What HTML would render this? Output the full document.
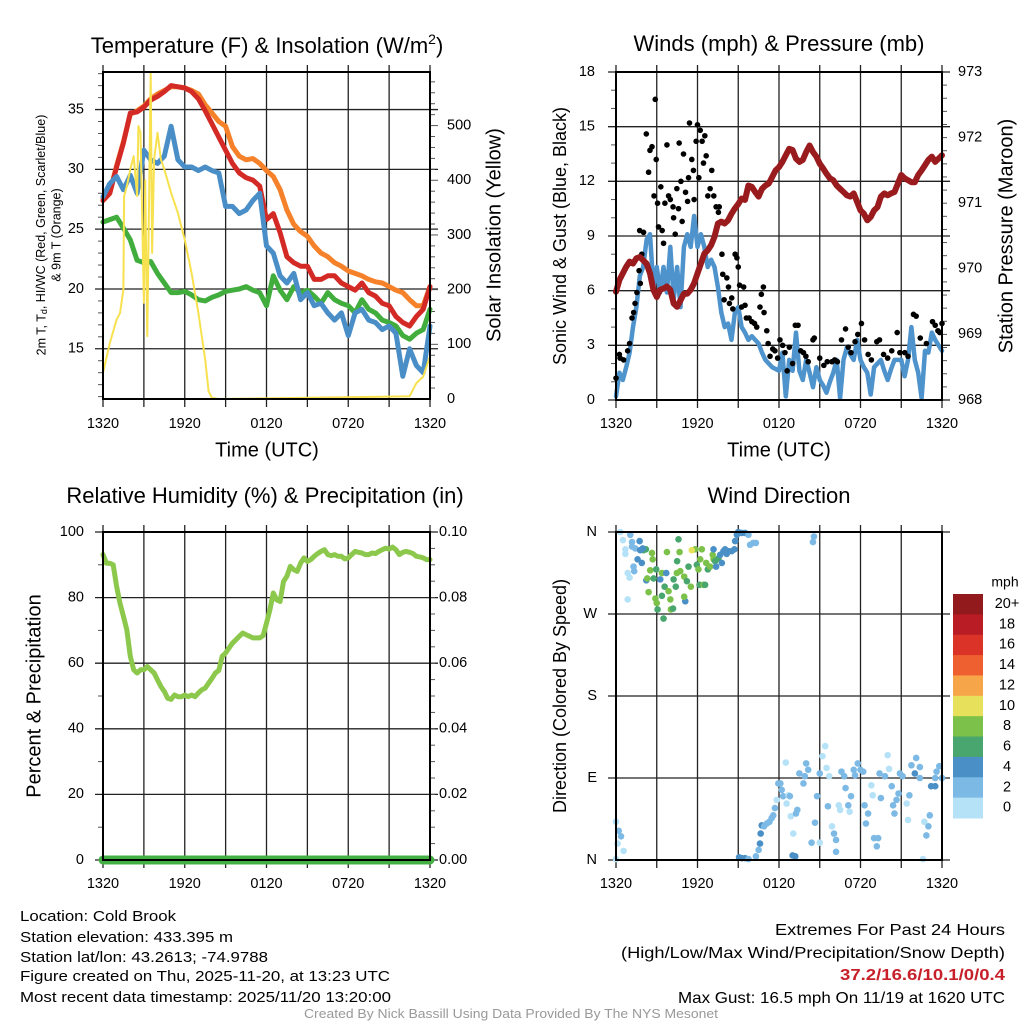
<!DOCTYPE html>
<html><head><meta charset="utf-8"><title>Cold Brook Meteogram</title>
<style>
html,body{margin:0;padding:0;background:#fff;}
svg{display:block;font-family:"Liberation Sans",sans-serif;}
</style></head>
<body>
<svg id="fig" xmlns="http://www.w3.org/2000/svg" width="1024" height="1024" viewBox="0 0 1024 1024">
<rect x="0" y="0" width="1024" height="1024" fill="#fff"/>
<text x="267" y="53" font-size="22" text-anchor="middle">Temperature (F) &amp; Insolation (W/m<tspan font-size="14" dy="-9">2</tspan><tspan dy="9">)</tspan></text>
<text x="779" y="45" font-size="22" text-anchor="middle" dominant-baseline="middle">Winds (mph) &amp; Pressure (mb)</text>
<text x="265" y="497" font-size="22" text-anchor="middle" dominant-baseline="middle">Relative Humidity (%) &amp; Precipitation (in)</text>
<text x="779" y="497" font-size="22" text-anchor="middle" dominant-baseline="middle">Wind Direction</text>

<text transform="translate(42,235) rotate(-90)" font-size="12.5" text-anchor="middle" dominant-baseline="middle">2m T, T<tspan font-size="9" dy="3">d</tspan><tspan dy="-3">, HI/WC (Red, Green, Scarlet/Blue)</tspan></text>
<text transform="translate(57,235) rotate(-90)" font-size="12.5" text-anchor="middle" dominant-baseline="middle">&amp; 9m T (Orange)</text>
<text transform="translate(495,235) rotate(-90)" font-size="20" text-anchor="middle" dominant-baseline="middle">Solar Insolation (Yellow)</text>
<text x="267" y="451" font-size="20" text-anchor="middle" dominant-baseline="middle">Time (UTC)</text>
<text transform="translate(561,236) rotate(-90)" font-size="18" text-anchor="middle" dominant-baseline="middle">Sonic Wind &amp; Gust (Blue, Black)</text>
<text transform="translate(1007,236) rotate(-90)" font-size="20" text-anchor="middle" dominant-baseline="middle">Station Pressure (Maroon)</text>
<text x="779" y="451" font-size="20" text-anchor="middle" dominant-baseline="middle">Time (UTC)</text>
<text transform="translate(35,696) rotate(-90)" font-size="20" text-anchor="middle" dominant-baseline="middle">Percent &amp; Precipitation</text>
<text transform="translate(561,696) rotate(-90)" font-size="18" text-anchor="middle" dominant-baseline="middle">Direction (Colored By Speed)</text>
<text x="1005" y="583" font-size="14" text-anchor="middle" dominant-baseline="middle">mph</text>

<g font-size="15">
<text x="20" y="921" textLength="156" lengthAdjust="spacingAndGlyphs">Location: Cold Brook</text>
<text x="20" y="942" textLength="213" lengthAdjust="spacingAndGlyphs">Station elevation: 433.395 m</text>
<text x="20" y="962" textLength="248" lengthAdjust="spacingAndGlyphs">Station lat/lon: 43.2613; -74.9788</text>
<text x="20" y="981" textLength="370" lengthAdjust="spacingAndGlyphs">Figure created on Thu, 2025-11-20, at 13:23 UTC</text>
<text x="20" y="1002" textLength="371" lengthAdjust="spacingAndGlyphs">Most recent data timestamp: 2025/11/20 13:20:00</text>
</g>
<g font-size="16">
<text x="775" y="935" textLength="230" lengthAdjust="spacingAndGlyphs">Extremes For Past 24 Hours</text>
<text x="621" y="958" textLength="384" lengthAdjust="spacingAndGlyphs">(High/Low/Max Wind/Precipitation/Snow Depth)</text>
<text x="840" y="980" textLength="165" lengthAdjust="spacingAndGlyphs" font-weight="bold" fill="#c8202a">37.2/16.6/10.1/0/0.4</text>
<text x="678" y="1003" textLength="327" lengthAdjust="spacingAndGlyphs">Max Gust: 16.5 mph On 11/19 at 1620 UTC</text>
</g>
<text x="304" y="1018" font-size="12.5" fill="#999" textLength="414" lengthAdjust="spacingAndGlyphs">Created By Nick Bassill Using Data Provided By The NYS Mesonet</text>
<g id="charts"></g>
</svg>
<script>
// ---------- DATA ----------
const xTickLabels = ["1320","1920","0120","0720","1320"];
const tempYTicks = [15,20,25,30,35];
const solarYTicks = [0,100,200,300,400,500];
const windYTicks = [0,3,6,9,12,15,18];
const presYTicks = [968,969,970,971,972,973];
const rhYTicks = [0,20,40,60,80,100];
const precipYTicks = ["0.00","0.02","0.04","0.06","0.08","0.10"];
const dirLabels = ["N","E","S","W","N"];
const dirTicks = [0,90,180,270,360];
const colorbarLabels = ["20+","18","16","14","12","10","8","6","4","2","0"];

const halfHourTimes = [0,0.5,1,1.5,2,2.5,3,3.5,4,4.5,5,5.5,6,6.5,7,7.5,8,8.5,9,9.5,10,10.5,11,11.5,12,12.5,13,13.5,14,14.5,15,15.5,16,16.5,17,17.5,18,18.5,19,19.5,20,20.5,21,21.5,22,22.5,23,23.5,24];
const airTemp = [27.4,28.0,30.2,32.2,34.7,34.8,35.2,35.8,36.1,36.5,37.0,36.9,36.8,36.5,35.9,34.9,33.8,32.7,31.6,30.5,29.7,29.3,29.1,28.6,25.8,26.3,24.7,22.7,22.2,21.9,21.9,20.8,20.8,21.1,21.1,20.5,20.2,19.9,20.5,19.7,19.4,18.8,18.6,17.7,17.2,16.9,17.7,18.3,20.2];
const temp9m = [27.6,28.1,30.3,32.3,34.6,34.9,35.3,35.9,36.3,36.6,36.9,36.9,36.8,36.6,36.3,35.4,34.7,34.0,33.6,31.9,31.1,30.8,30.9,30.5,29.9,29.4,28.3,26.6,25.4,24.8,24.4,23.6,23.0,22.7,22.2,21.9,21.5,21.3,21.1,20.8,20.6,20.5,20.2,19.9,19.7,19.1,18.6,18.6,20.2];
const dewPoint = [25.6,25.8,26.0,25.1,24.1,22.4,22.2,22.3,21.3,20.5,19.7,19.7,19.8,19.5,19.1,19.0,19.3,19.5,19.8,19.9,20.0,20.2,19.9,19.7,18.6,21.1,19.9,19.1,20.2,19.7,19.9,19.4,18.8,19.7,19.1,18.8,18.6,18.0,19.1,18.3,18.0,17.4,17.2,16.9,16.1,15.8,16.3,16.6,18.3];
const windChill = [27.7,28.8,29.4,28.3,29.5,28.0,31.6,30.8,30.5,31.1,33.6,30.8,30.2,30.2,29.9,30.2,29.9,29.7,26.9,26.9,26.3,26.6,27.4,28.0,23.6,23.0,21.1,20.5,21.3,19.1,19.7,18.6,18.8,18.0,17.4,18.0,16.1,18.0,18.3,17.4,17.2,16.6,16.9,16.3,12.7,15.0,13.6,13.0,16.9];

const solarTimes = [0,0.5,1,1.25,1.5,1.55,1.75,2,2.25,2.5,2.6,2.75,3,3.1,3.25,3.5,3.6,3.75,4,4.25,4.5,5,5.5,6,6.5,7,7.5,7.75,8,8.5,22.5,23,23.5,24];
const solarValues = [48,102,145,157,200,371,389,420,444,371,499,487,176,400,115,596,267,438,487,438,420,377,340,291,230,157,72,14,2,0,5,29,41,78];

const quarterTimes = [0,0.25,0.5,0.75,1,1.25,1.5,1.75,2,2.25,2.5,2.75,3,3.25,3.5,3.75,4,4.25,4.5,4.75,5,5.25,5.5,5.75,6,6.25,6.5,6.75,7,7.25,7.5,7.75,8,8.25,8.5,8.75,9,9.25,9.5,9.75,10,10.25,10.5,10.75,11,11.25,11.5,11.75,12,12.25,12.5,12.75,13,13.25,13.5,13.75,14,14.25,14.5,14.75,15,15.25,15.5,15.75,16,16.25,16.5,16.75,17,17.25,17.5,17.75,18,18.25,18.5,18.75,19,19.25,19.5,19.75,20,20.25,20.5,20.75,21,21.25,21.5,21.75,22,22.25,22.5,22.75,23,23.25,23.5,23.75,24];
const sonicWind = [0.2,1.5,1.1,1.8,2.6,4.0,5.1,6.8,7.3,8.8,9.1,6.2,7.3,5.9,7.3,5.9,8.4,5.5,7.3,5.1,8.4,9.1,8.4,10.1,8.4,9.1,8.4,7.3,7.7,7.3,6.2,4.8,4.0,4.2,3.3,4.8,5.1,4.0,3.7,3.3,3.5,3.3,3.1,2.6,2.2,2.0,1.8,1.7,1.6,2.6,0.2,2.2,1.6,3.7,1.6,1.1,2.2,1.5,0.7,1.8,1.1,0.8,0.4,1.0,1.5,2.2,0.1,2.2,2.9,2.5,2.2,3.3,2.2,1.8,1.5,0.3,1.8,2.0,2.2,1.6,1.1,1.7,2.2,2.2,2.2,1.3,2.2,4.0,2.2,1.5,0.1,2.7,2.6,3.7,3.3,3.0,2.7];
const pressure = [969.65,969.83,969.93,970.03,970.11,970.08,970.16,970.18,970.13,970.08,969.93,969.68,969.57,969.68,969.70,969.73,969.68,969.47,969.42,969.52,969.62,969.62,969.68,969.78,969.93,970.08,970.23,970.28,970.36,970.49,970.69,970.72,970.69,970.74,970.84,970.92,970.99,971.07,971.05,971.27,971.25,971.17,971.10,971.22,971.27,971.30,971.40,971.50,971.55,971.63,971.73,971.83,971.81,971.68,971.63,971.66,971.78,971.88,971.78,971.71,971.60,971.53,971.45,971.38,971.35,971.27,971.22,971.17,971.12,971.10,971.15,971.02,970.89,970.84,970.74,970.79,970.89,970.94,971.10,971.15,971.12,971.15,971.17,971.30,971.43,971.38,971.35,971.32,971.32,971.43,971.50,971.58,971.66,971.71,971.63,971.68,971.73];
const relHumidity = [93.1,90.5,90.5,90.0,83.4,78.3,74.3,70.2,62.1,58.0,57.0,58.0,58.0,59.0,58.0,57.0,54.9,52.9,51.4,49.3,49.0,50.3,49.8,49.8,50.3,49.8,50.3,49.8,50.9,51.9,52.4,53.9,55.4,57.0,57.8,62.1,63.1,64.6,66.1,67.1,68.2,69.2,68.7,68.2,67.7,67.7,67.7,68.4,72.2,76.3,81.4,79.3,78.8,84.9,86.5,89.5,88.5,88.0,90.5,92.1,91.0,91.6,92.6,93.4,94.1,94.6,93.1,92.8,93.1,92.6,92.6,91.8,92.1,93.1,94.1,93.8,93.6,93.1,93.1,93.6,93.4,94.1,94.6,95.1,94.8,95.4,94.6,93.1,93.8,94.1,93.8,93.4,92.6,92.4,92.1,91.6,91.6];
const precipTimes = [0,24];
const precipValues = [0,0];

const gustTimes = [0,0.25,0.3,0.56,0.86,1.0,1.18,1.3,1.4,1.54,1.7,1.79,1.9,1.74,2.03,2.23,2.4,2.5,2.65,2.89,2.96,2.8,3.06,3.13,3.3,3.4,3.5,3.6,3.75,3.87,4.0,4.2,4.24,4.36,4.48,4.6,4.65,4.78,4.87,4.97,5.12,5.27,5.34,5.41,5.58,5.7,5.75,5.9,6.0,6.1,6.2,6.34,6.44,6.54,6.64,6.76,6.93,7.05,7.2,7.37,7.54,7.6,7.8,7.86,7.96,8.16,8.28,8.35,8.52,8.6,8.77,8.9,9.0,9.1,9.25,9.4,9.5,9.6,9.8,10.0,10.2,10.36,10.6,10.7,10.85,10.9,11.1,11.2,11.34,11.54,11.7,11.9,12.07,12.27,12.44,12.6,12.76,13.0,13.2,13.4,13.6,13.8,13.98,14.15,14.5,14.6,15.0,15.3,15.55,15.9,16.1,16.3,16.6,16.9,17.1,17.3,17.6,17.8,18.07,18.3,18.56,18.8,19.2,19.4,19.7,20.0,20.3,20.7,20.9,21.26,21.5,21.9,22.1,22.4,22.85,23.3,23.5,23.7,23.83,24.0];
const gustValues = [1.2,2.5,2.3,2.2,2.7,3.1,4.5,4.8,5.3,5.9,7.1,6.4,8.0,9.3,9.2,14.6,12.5,13.7,13.9,16.5,13.2,11.2,10.8,9.5,11.7,9.3,8.6,10.8,14.0,11.2,11.0,10.6,10.0,9.1,11.6,10.5,14.1,12.0,9.8,13.5,11.4,10.9,12.2,15.2,13.2,12.6,11.0,14.2,15.1,12.2,14.8,14.2,13.0,14.5,13.4,11.2,11.6,12.6,11.2,10.6,10.3,10.6,8.0,6.9,5.5,6.7,6.2,5.3,5.6,5.0,8.0,7.8,7.3,6.3,5.1,6.2,5.2,4.5,4.5,4.3,4.2,4.0,5.1,5.8,6.2,4.8,3.8,3.1,2.4,2.8,2.7,2.3,3.3,3.0,2.6,1.6,2.9,2.0,4.1,4.1,2.7,2.6,2.4,2.1,3.3,3.4,2.3,1.9,2.1,2.1,2.2,2.1,3.3,3.9,2.9,2.6,3.2,3.6,4.2,3.3,2.5,2.2,3.2,3.3,2.5,2.3,2.7,3.7,2.6,2.6,2.4,4.7,4.6,3.4,3.1,4.3,4.1,3.8,3.7,4.2];

const dirTimes = [0.32,0.51,1.05,1.18,1.74,1.42,0.69,0.69,1.59,1.9,1.29,0.86,1.0,0.86,1.34,2.03,2.2,2.65,2.7,2.52,2.23,2.3,2.77,2.96,3.26,3.38,3.7,3.75,4.6,4.5,4.68,3.58,2.4,2.9,3.0,3.38,3.87,4.0,4.04,4.2,3.06,3.5,4.4,4.24,4.48,4.73,5.02,5.1,5.02,5.22,5.34,5.51,5.83,5.95,6.07,6.2,6.32,6.15,6.44,6.56,6.64,6.76,6.93,7.12,7.18,7.3,7.37,7.54,7.67,7.91,8.03,8.28,8.52,8.72,8.77,8.9,9.0,9.26,9.5,9.75,9.87,10.1,10.3,1.97,1.78,1.18,8.15,7.79,7.18,14.57,14.5,5.58,
0,0.2,0.37,0.12,0.56,0,9.06,9.26,9.5,9.75,
10.3,10.5,10.6,10.65,10.73,10.9,11.1,11.3,11.46,11.58,11.7,11.83,11.95,12.1,12.2,12.3,12.5,12.56,12.7,12.8,12.87,13.0,13.2,13.25,13.35,13.05,13.5,13.8,13.9,14.0,14.15,14.4,14.65,14.8,15.0,15.0,15.2,15.4,15.5,15.6,15.7,15.9,16.05,16.2,16.2,16.4,16.5,16.6,16.8,16.9,17.1,17.2,17.3,17.5,17.6,17.8,18.0,18.2,18.3,18.56,18.4,18.8,18.9,19.0,19.2,19.3,19.4,19.5,19.8,20.0,20.1,20.3,20.4,20.5,20.65,20.8,20.9,21.1,21.4,21.5,21.6,21.75,22.0,22.1,22.37,22.37,22.6,22.7,22.85,23.0,23.1,23.2,23.5,23.6,23.8,24.0,23.5];
const dirDegrees = [360,351,357,349,350,342,341,336,330,326,322,315,310,286,317,340,341,337,330,318,307,309,309,319,308,315,315,338,352,328,338,300,294,287,282,290,295,286,275,276,275,265,300,308,315,317,311,284,289,306,322,300,341,324,319,330,341,302,302,302,326,319,322,335,330,328,322,331,335,339,341,339,339,341,350,357,360,359,359,357,346,348,348,342,340,344,336,326,341,355,349,340,
42,32,26,18,10,1,3,2,2,1,
4,11,18,29,38,37,40,42,46,49,57,66,84,84,77,70,107,62,71,70,48,5,4,51,55,29,95,84,92,106,99,19,41,70,19,95,114,125,101,59,92,37,29,22,9,60,55,97,92,79,60,53,70,99,93,106,99,97,60,51,40,82,71,24,15,24,95,68,92,115,100,81,60,51,66,73,95,92,62,44,71,104,95,112,102,90,1,42,27,37,49,81,90,97,103,90,81];
const dirSpeeds = [1,1,2,2,4,3,1,1,4,4,2,1,1,1,3,6,6,8,8,8,4,8,6,6,4,8,4,8,6,6,8,6,8,8,8,6,8,8,8,6,6,6,6,6,8,8,8,4,8,6,6,8,8,6,8,8,8,6,8,6,8,6,8,8,8,6,4,6,4,4,4,4,4,4,4,4,4,4,4,3,2,2,2,4,4,3,4,4,4,2,2,10,
1,2,2,1,1,1,4,4,4,3,
2,2,4,4,4,3,3,3,2,2,2,1,3,3,2,2,1,1,1,2,1,4,4,2,2,1,2,2,2,2,2,2,3,3,1,2,1,1,1,2,1,1,2,2,2,1,1,2,2,2,2,1,2,2,2,2,2,2,2,2,2,1,1,2,2,2,2,2,2,1,1,2,2,2,2,2,2,2,1,1,2,3,4,3,2,2,1,1,2,2,2,4,3,2,2,2,4];

// ---------- STYLE (not data) ----------
const colorbarColors = ["#931a1c","#b91c24","#dc3328","#ee6030","#f6a648","#e6e05a","#7cc149","#48a66e","#4a90c6","#7cb9e4","#b5e2f7"];
function speedColor(s){
  const bins=[0,2,4,6,8,10,12,14,16,18,20];
  let idx=0; for(let i=0;i<bins.length;i++){ if(s>=bins[i]) idx=i; }
  return colorbarColors[10-idx];
}

const NS="http://www.w3.org/2000/svg";
const root=document.getElementById('charts');
function mk(tag, attrs, parent){
  const el=document.createElementNS(NS,tag);
  for(const k in attrs) el.setAttribute(k,attrs[k]);
  (parent||root).appendChild(el);
  return el;
}
function txt(x,y,s,size,anchor,parent){
  const el=mk('text',{x:x,y:y,'font-size':size,'text-anchor':anchor,'dominant-baseline':'middle'},parent);
  el.textContent=s;
  return el;
}

function makeX(x0,x1){ return t => x0 + t/24*(x1-x0); }
// y0 = top pixel, y1 = bottom pixel, vTop = value at top, vBot = value at bottom
function makeY(y0,y1,vTop,vBot){ return v => y0 + (vTop-v)/(vTop-vBot)*(y1-y0); }

function drawFrame(P, name){
  const g=mk('g',{});
  
  
  for(let h=0;h<=24;h+=3){
    const x=P.x(h);
    const l=mk('line',{x1:x,x2:x,y1:P.y0-7,y2:P.y1+8,stroke:'#222','stroke-width':1.3},g);
    
    
  }
  xTickLabels.forEach((s,i)=>{
    const t=txt(P.x(i*6),P.labY,s,14.5,'middle',g);
    
    
  });
  return g;
}
function hgrid(g,P,yv,name){
  const l=mk('line',{x1:P.x0-8,x2:P.x1+8,y1:yv,y2:yv,stroke:'#222','stroke-width':1.3},g);
  
  
}
function minor(g,x,yv,len,name){
  const l=mk('line',{x1:x,x2:x+len,y1:yv,y2:yv,stroke:'#555','stroke-width':1},g);
  
  
}
function box(P,name){
  const r=mk('rect',{x:P.x0,y:P.y0,width:P.x1-P.x0,height:P.y1-P.y0,fill:'none',stroke:'#000','stroke-width':2});
  
  
}
function line(xs,ys,P,yf,color,w,name){
  let d='';
  for(let i=0;i<xs.length;i++){ d+=(i?'L':'M')+P.x(xs[i]).toFixed(1)+','+yf(ys[i]).toFixed(1); }
  const p=mk('path',{d:d,fill:'none',stroke:color,'stroke-width':w,'stroke-linejoin':'round','stroke-linecap':'round'});
  
  
  return p;
}

// ---------- PANEL 1: Temperature ----------
const P1={x0:103,x1:430,y0:72,y1:399,labY:424}; P1.x=makeX(P1.x0,P1.x1);
const yT=makeY(P1.y0,P1.y1,38.14,10.8);
const yS=makeY(P1.y0,P1.y1,598,0);
(function(){
  const g=drawFrame(P1,'temperature');
  tempYTicks.forEach(v=>{ hgrid(g,P1,yT(v),'temperature');
    const t=txt(84,yT(v),String(v),14.5,'end',g);
    
     });
  for(let v=11;v<=38;v++){ if(v%5) minor(g,P1.x0,yT(v),-5,'temperature'); }
  solarYTicks.forEach(v=>{ const t=txt(447,yS(v),String(v),14.5,'start',g);
    
     });
  for(let v=20;v<=580;v+=20){ if(v%100) minor(g,P1.x1,yS(v),5,'solar'); else minor(g,P1.x1,yS(v),8,'solar'); }
  line(halfHourTimes,temp9m,P1,yT,'#f5822a',5,'temp-9m-line');
  line(halfHourTimes,airTemp,P1,yT,'#d42a26',5,'air-temp-line');
  line(halfHourTimes,dewPoint,P1,yT,'#41ad3d',5,'dewpoint-line');
  line(halfHourTimes,windChill,P1,yT,'#4a8ec8',5,'wind-chill-line');
  line(solarTimes,solarValues,P1,yS,'#f7e14f',2,'solar-line');
  box(P1,'temperature');
})();

// ---------- PANEL 2: Winds ----------
const P2={x0:616,x1:942,y0:72,y1:400,labY:424}; P2.x=makeX(P2.x0,P2.x1);
const yW=makeY(P2.y0,P2.y1,18,0);
const yP=makeY(P2.y0,P2.y1,973,968);
(function(){
  const g=drawFrame(P2,'wind');
  windYTicks.forEach(v=>{ hgrid(g,P2,yW(v),'wind');
    const t=txt(595,yW(v),String(v),14.5,'end',g);
    
     });
  for(let v=1;v<18;v++){ if(v%3) minor(g,P2.x0,yW(v),-5,'wind'); }
  presYTicks.forEach(v=>{ const t=txt(958,yP(v),String(v),14.5,'start',g);
    
     });
  for(let v=968.2;v<973;v+=0.2){ minor(g,P2.x1,yP(v),5,'pressure'); }
  line(quarterTimes,sonicWind,P2,yW,'#4e93cc',4.5,'sonic-wind-line');
  gustTimes.forEach((t,i)=>{
    const c=mk('circle',{cx:P2.x(t),cy:yW(gustValues[i]),r:2.8,fill:'#000'});
    
    
  });
  line(quarterTimes,pressure,P2,yP,'#9a1b1e',6,'pressure-line');
  box(P2,'wind');
})();

// ---------- PANEL 3: RH ----------
const P3={x0:103,x1:430,y0:532,y1:860,labY:884}; P3.x=makeX(P3.x0,P3.x1);
const yR=makeY(P3.y0,P3.y1,100,0);
const yPr=makeY(P3.y0,P3.y1,0.10,0);
(function(){
  const g=drawFrame(P3,'humidity');
  rhYTicks.forEach(v=>{ hgrid(g,P3,yR(v),'humidity');
    const t=txt(84,yR(v),String(v),14.5,'end',g);
    
     });
  for(let v=10;v<100;v+=20){ minor(g,P3.x0,yR(v),-5,'humidity'); }
  precipYTicks.forEach(s=>{ const t=txt(439,yPr(parseFloat(s)),s,14.5,'start',g);
    
     });
  for(let v=0.005;v<0.1;v+=0.005){ minor(g,P3.x1,yPr(v),5,'precip'); }
  line(quarterTimes,relHumidity,P3,yR,'#8cc84b',5,'humidity-line');
  line(precipTimes,precipValues,P3,yPr,'#44b044',9,'precip-line');
  box(P3,'humidity');
})();

// ---------- PANEL 4: Wind direction ----------
const P4={x0:616,x1:942,y0:532,y1:860,labY:884}; P4.x=makeX(P4.x0,P4.x1);
const yD=makeY(P4.y0,P4.y1,360,0);
(function(){
  const g=drawFrame(P4,'direction');
  dirTicks.forEach((v,i)=>{ hgrid(g,P4,yD(v),'direction');
    const t=txt(597,yD(v),dirLabels[i],14.5,'end',g);
    
     });
  dirTimes.forEach((t,i)=>{
    const c=mk('circle',{cx:P4.x(t),cy:yD(dirDegrees[i]),r:3.3,fill:speedColor(dirSpeeds[i])});
    
    
  });
  box(P4,'direction');
  const cb=mk('g',{});
  
  
  const h=224/11;
  colorbarColors.forEach((c,i)=>{
    const r=mk('rect',{x:953,y:594+i*h,width:30,height:h+0.5,fill:c},cb);
    
    
    const t=txt(1007,594+i*h+h/2,colorbarLabels[i],14.5,'middle',cb);
    
    
  });
})();
</script>
</body></html>
